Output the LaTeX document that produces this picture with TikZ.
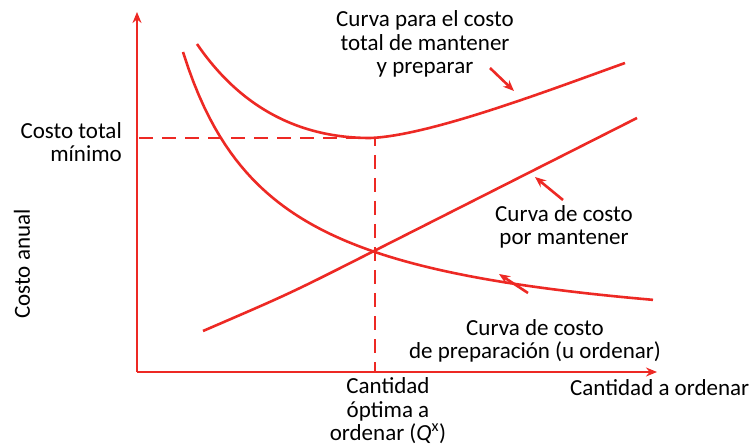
\documentclass[tikz,border=0pt]{standalone}
\usepackage{fontspec}
\setmainfont{Carlito}
\usetikzlibrary{arrows.meta}
\definecolor{curvered}{RGB}{237,41,36}
\begin{document}
\begin{tikzpicture}[x=1pt,y=-1pt,
  curve/.style={curvered,line width=2.6pt},
  pointer/.style={curvered,line width=2.6pt,-{Stealth[length=11pt,width=9pt]}},
  label/.style={font=\fontsize{23}{23.5}\selectfont,align=center,inner sep=0pt}]
\useasboundingbox (0,0) rectangle (755,446);
% axes
\coordinate (origin) at (137,372);
\coordinate (ytip) at (137,12);
\coordinate (xtip) at (657,372);
\draw[pointer] (origin) -- (ytip);
\draw[pointer] (origin) -- (xtip);
% curves
\draw[curve] plot[domain=183:653,samples=90] (\x,{348.9-276.13/((\x-90)/100)});
\draw[curve] (197,44) .. controls (238,104) and (295,138) .. (370,138)
  .. controls (430,136) and (555,88) .. (625,63);
\draw[curve] (203,331) .. controls (290,293.5) .. (372,252) -- (637,118);
% optimum
\coordinate (mincost) at (139,138);
\coordinate (minpt) at (375,138);
\coordinate (qopt) at (375,372);
\draw[curve,dash pattern=on 14pt off 9pt] (mincost) -- (minpt) -- (qopt);
% labels
\node[label] (totaltext) at (425,44) {Curva para el costo\\total de mantener\\y preparar};
\node[label] (holdtext) at (564,227) {Curva de costo\\por mantener};
\node[label] (setuptext) at (535,341) {Curva de costo\\de preparación (u ordenar)};
\node[label,align=right,anchor=east] (mintext) at (122,142) {Costo total\\mínimo};
\node[label,rotate=90] (yaxtext) at (22,264) {Costo anual};
\node[label,anchor=west] (xaxtext) at (570,388) {Cantidad a ordenar};
\node[label] (qtext) at (388,411) {Cantidad\\óptima a\\ordenar (\textit{Q}\textsuperscript{x})};
% pointers
\coordinate (totalfrom) at (490,68);
\coordinate (totalto) at (514,91);
\coordinate (holdfrom) at (563,200);
\coordinate (holdto) at (535,177);
\coordinate (setupfrom) at (528,293);
\coordinate (setupto) at (499,274);
\draw[pointer] (totalfrom) -- (totalto);
\draw[pointer] (holdfrom) -- (holdto);
\draw[pointer] (setupfrom) -- (setupto);
\end{tikzpicture}
\end{document}
